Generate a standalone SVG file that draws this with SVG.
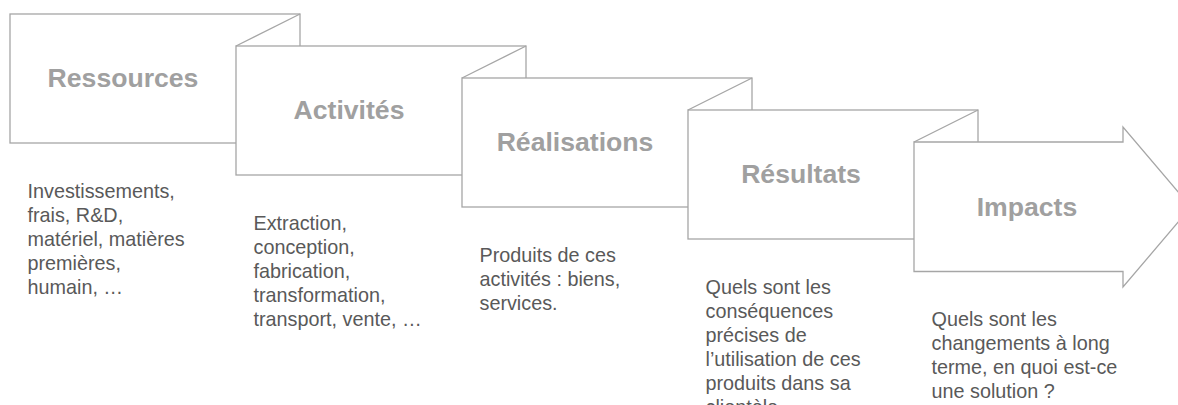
<svg xmlns="http://www.w3.org/2000/svg" width="1178" height="405" viewBox="0 0 1178 405">
<style>
.box{fill:#ffffff;stroke:#a6a6a6;stroke-width:1.3;stroke-linejoin:miter}
.fold{fill:none;stroke:#a6a6a6;stroke-width:1.3}
.title{font-family:"Liberation Sans",Arial,sans-serif;font-weight:bold;font-size:26.6px;fill:#a0a0a0;text-anchor:middle}
.body{font-family:"Liberation Sans",Arial,sans-serif;font-size:19.8px;fill:#595959}
</style>
<rect width="1178" height="405" fill="#ffffff"/>
<g id="connectors"/>
<g id="node-ressources">
<rect class="box" x="10" y="14" width="290" height="129"/>
<text class="title" x="123" y="87.3">Ressources</text>
</g>
<g id="node-activites">
<rect class="box" x="236" y="46" width="290" height="129"/>
<line class="fold" x1="236" y1="46" x2="300" y2="14"/>
<text class="title" x="349" y="119.3">Activités</text>
</g>
<g id="node-realisations">
<rect class="box" x="462" y="78" width="290" height="129"/>
<line class="fold" x1="462" y1="78" x2="526" y2="46"/>
<text class="title" x="575" y="151.3">Réalisations</text>
</g>
<g id="node-resultats">
<rect class="box" x="688" y="110" width="290" height="129"/>
<line class="fold" x1="688" y1="110" x2="752" y2="78"/>
<text class="title" x="801" y="183.3">Résultats</text>
</g>
<g id="node-impacts">
<polygon class="box" points="914,142 1123,142 1123,127 1191,207 1123,287 1123,271.5 914,271.5"/>
<line class="fold" x1="914" y1="142" x2="978" y2="110"/>
<text class="title" x="1027" y="215.5">Impacts</text>
</g>
<g id="text-ressources" class="body">
<text x="27.5" y="197.7">Investissements,</text>
<text x="27.5" y="221.7">frais, R&amp;D,</text>
<text x="27.5" y="245.7">matériel, matières</text>
<text x="27.5" y="269.7">premières,</text>
<text x="27.5" y="293.7">humain, …</text>
</g>
<g id="text-activites" class="body">
<text x="253.5" y="229.7">Extraction,</text>
<text x="253.5" y="253.7">conception,</text>
<text x="253.5" y="277.7">fabrication,</text>
<text x="253.5" y="301.7">transformation,</text>
<text x="253.5" y="325.7">transport, vente, …</text>
</g>
<g id="text-realisations" class="body">
<text x="479.5" y="261.7">Produits de ces</text>
<text x="479.5" y="285.7">activités : biens,</text>
<text x="479.5" y="309.7">services.</text>
</g>
<g id="text-resultats" class="body">
<text x="705.5" y="293.7">Quels sont les</text>
<text x="705.5" y="317.7">conséquences</text>
<text x="705.5" y="341.7">précises de</text>
<text x="705.5" y="365.7">l’utilisation de ces</text>
<text x="705.5" y="389.7">produits dans sa</text>
<text x="705.5" y="413.7">clientèle</text>
</g>
<g id="text-impacts" class="body">
<text x="931.5" y="325.7">Quels sont les</text>
<text x="931.5" y="349.7">changements à long</text>
<text x="931.5" y="373.7">terme, en quoi est-ce</text>
<text x="931.5" y="397.7">une solution ?</text>
</g>
</svg>
